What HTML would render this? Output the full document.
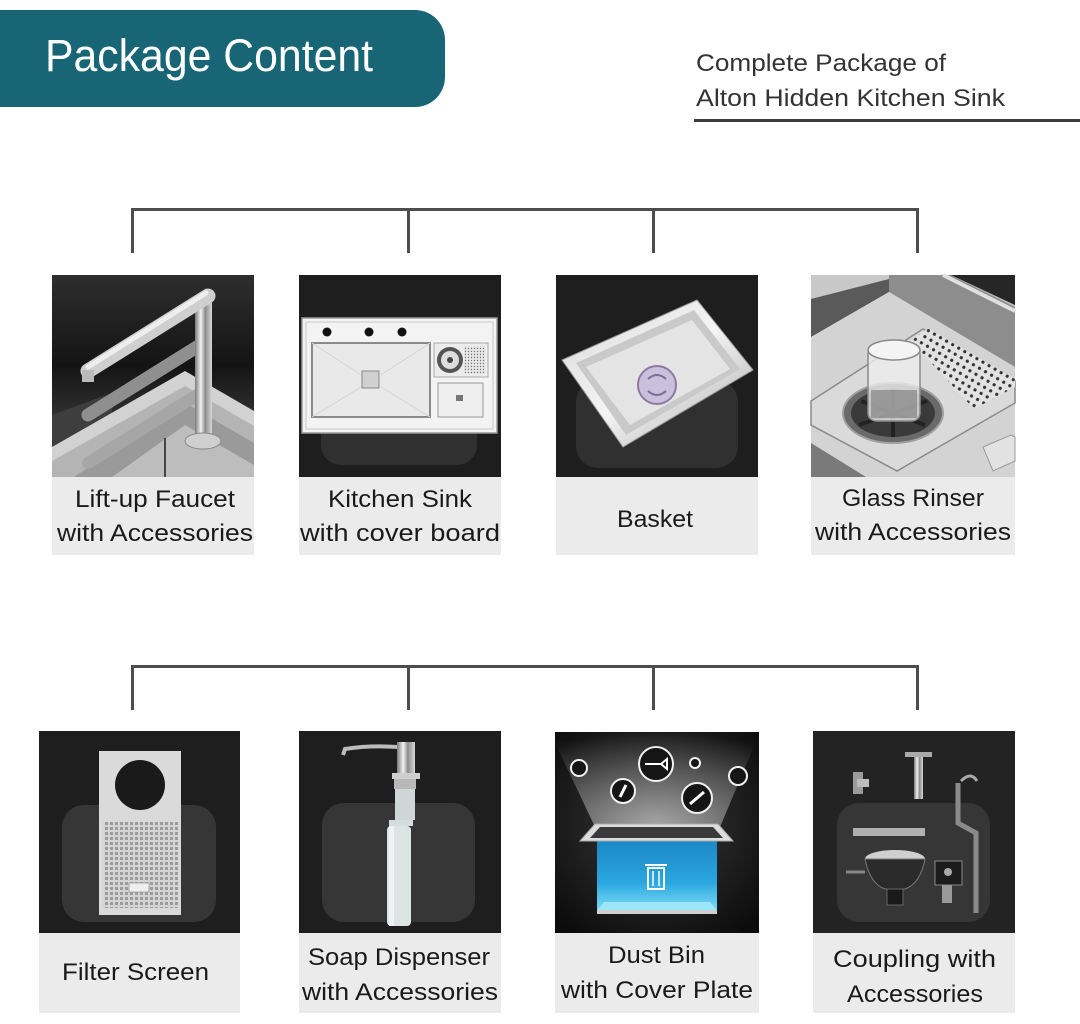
<!DOCTYPE html>
<html><head><meta charset="utf-8"><style>
html,body{margin:0;padding:0;background:#fff;}
svg{display:block;}
text{font-family:"Liberation Sans",Arial,sans-serif;}
</style></head><body>
<svg width="1080" height="1024" viewBox="0 0 1080 1024" xmlns="http://www.w3.org/2000/svg">
<defs>
<linearGradient id="fbg" x1="0" y1="0" x2="0" y2="1"><stop offset="0" stop-color="#2e2e2e"/><stop offset="0.45" stop-color="#141414"/><stop offset="0.8" stop-color="#3c3c3c"/></linearGradient>
<linearGradient id="chrome" x1="0" y1="0" x2="1" y2="0"><stop offset="0" stop-color="#7a7a7a"/><stop offset="0.35" stop-color="#f2f2f2"/><stop offset="0.6" stop-color="#8c8c8c"/><stop offset="1" stop-color="#d8d8d8"/></linearGradient>
<linearGradient id="steel" x1="0" y1="0" x2="1" y2="1"><stop offset="0" stop-color="#d8d8d8"/><stop offset="0.5" stop-color="#f4f4f4"/><stop offset="1" stop-color="#a8a8a8"/></linearGradient>
<linearGradient id="blue" x1="0" y1="0" x2="0" y2="1"><stop offset="0" stop-color="#1b86c6"/><stop offset="0.6" stop-color="#2aa7e0"/><stop offset="1" stop-color="#7fdcf6"/></linearGradient>
<radialGradient id="dbg" cx="0.5" cy="0.45" r="0.7"><stop offset="0" stop-color="#3a3a3a"/><stop offset="1" stop-color="#0b0b0b"/></radialGradient>
<radialGradient id="rays" cx="0.5" cy="1" r="1"><stop offset="0" stop-color="#fff" stop-opacity="0.55"/><stop offset="1" stop-color="#fff" stop-opacity="0"/></radialGradient>
<pattern id="mesh" width="5" height="5" patternUnits="userSpaceOnUse"><rect width="5" height="5" fill="#d4d4d4"/><rect x="1" y="1" width="3" height="3" fill="#9c9c9c"/></pattern>
<pattern id="dots" width="7" height="7" patternUnits="userSpaceOnUse" patternTransform="rotate(30)"><rect width="7" height="7" fill="#e2e2e2"/><circle cx="3.5" cy="3.5" r="1.6" fill="#333"/></pattern>
<pattern id="dots2" width="3" height="3" patternUnits="userSpaceOnUse"><rect width="3" height="3" fill="#e8e8e8"/><circle cx="1.5" cy="1.5" r="0.7" fill="#777"/></pattern>
</defs>

<!-- Header -->
<path d="M0 10 H415 A30 30 0 0 1 445 40 V77 A30 30 0 0 1 415 107 H0 Z" fill="#186576"/>
<text x="45" y="71" font-size="45" fill="#ffffff" textLength="328" lengthAdjust="spacingAndGlyphs">Package Content</text>

<text x="696" y="71" font-size="24" fill="#333" textLength="250" lengthAdjust="spacingAndGlyphs">Complete Package of</text>
<text x="696" y="106" font-size="24" fill="#333" textLength="309" lengthAdjust="spacingAndGlyphs">Alton Hidden Kitchen Sink</text>
<rect x="694" y="119" width="386" height="3" fill="#3c3c3c"/>

<!-- Connectors row 1 -->
<g fill="#4d4d4d">
<rect x="131" y="208" width="788" height="3"/>
<rect x="131" y="208" width="3" height="45"/>
<rect x="407" y="208" width="3" height="45"/>
<rect x="652" y="208" width="3" height="45"/>
<rect x="916" y="208" width="3" height="45"/>
</g>
<!-- Connectors row 2 -->
<g fill="#4d4d4d">
<rect x="131" y="665" width="788" height="3"/>
<rect x="131" y="665" width="3" height="45"/>
<rect x="407" y="665" width="3" height="45"/>
<rect x="652" y="665" width="3" height="45"/>
<rect x="916" y="665" width="3" height="45"/>
</g>

<!-- Card 1: Faucet -->
<g transform="translate(52,275)">
<rect width="202" height="202" fill="url(#fbg)"/>
<polygon points="0,140 60,118 60,150 0,175" fill="#3e3e3e"/>
<polygon points="0,172 133,96 202,136 202,202 0,202" fill="#d2d2d2"/>
<polygon points="0,186 133,111 202,151 202,202 0,202" fill="#b4b4b4"/>
<polygon points="22,202 133,128 202,168 202,202" fill="#9a9a9a"/>
<polygon points="60,202 133,150 202,190 202,202" fill="#bdbdbd"/>
<rect x="112" y="163" width="2" height="39" fill="#444"/>
<line x1="145" y1="120" x2="36" y2="188" stroke="#a6a6a6" stroke-width="12" stroke-linecap="round"/>
<line x1="148" y1="70" x2="36" y2="140" stroke="#8f8f8f" stroke-width="13" stroke-linecap="round"/>
<rect x="143" y="22" width="17" height="145" fill="url(#chrome)"/>
<ellipse cx="151" cy="166" rx="18" ry="8" fill="#cfcfcf" stroke="#888"/>
<line x1="156" y1="21" x2="36" y2="96" stroke="#cfcfcf" stroke-width="15" stroke-linecap="round"/>
<line x1="154" y1="18" x2="36" y2="92" stroke="#eeeeee" stroke-width="5" stroke-linecap="round"/>
<rect x="30" y="95" width="12" height="12" fill="#bbb"/>
</g>
<rect x="52" y="477" width="202" height="78" fill="#ebebeb"/>
<text x="75" y="507" font-size="24" fill="#1a1a1a" textLength="160" lengthAdjust="spacingAndGlyphs">Lift-up Faucet</text>
<text x="57" y="541" font-size="24" fill="#1a1a1a" textLength="196" lengthAdjust="spacingAndGlyphs">with Accessories</text>

<!-- Card 2: Kitchen Sink -->
<g transform="translate(299,275)">
<rect width="202" height="202" fill="#1e1e1e"/>
<rect x="22" y="120" width="156" height="70" rx="20" fill="#303030"/>
<rect x="3" y="43" width="195" height="115" fill="#f3f3f3" stroke="#9a9a9a" stroke-width="1.5"/>
<rect x="7" y="47" width="187" height="107" fill="none" stroke="#c8c8c8"/>
<circle cx="28" cy="57" r="4.5" fill="#111"/>
<circle cx="70" cy="57" r="4.5" fill="#111"/>
<circle cx="103" cy="57" r="4.5" fill="#111"/>
<rect x="13" y="68" width="118" height="74" fill="#e9e9e9" stroke="#8a8a8a" stroke-width="2"/>
<line x1="13" y1="68" x2="62" y2="100" stroke="#d5d5d5"/>
<line x1="131" y1="68" x2="82" y2="100" stroke="#d5d5d5"/>
<line x1="13" y1="142" x2="62" y2="112" stroke="#d5d5d5"/>
<line x1="131" y1="142" x2="82" y2="112" stroke="#d5d5d5"/>
<rect x="63" y="96" width="17" height="17" fill="#d0d0d0" stroke="#888"/>
<rect x="135" y="68" width="54" height="34" fill="#ececec" stroke="#aaa"/>
<circle cx="151" cy="85" r="13" fill="#555"/>
<circle cx="151" cy="85" r="9" fill="#ddd"/>
<circle cx="151" cy="85" r="3" fill="#444"/>
<rect x="165" y="71" width="21" height="28" fill="url(#dots2)"/>
<rect x="139" y="108" width="45" height="34" fill="#efefef" stroke="#999"/>
<rect x="157" y="120" width="7" height="6" fill="#777"/>
</g>
<rect x="299" y="477" width="202" height="78" fill="#ebebeb"/>
<text x="328" y="507" font-size="24" fill="#1a1a1a" textLength="144" lengthAdjust="spacingAndGlyphs">Kitchen Sink</text>
<text x="300" y="541" font-size="24" fill="#1a1a1a" textLength="200" lengthAdjust="spacingAndGlyphs">with cover board</text>

<!-- Card 3: Basket -->
<g transform="translate(556,275)">
<rect width="202" height="202" fill="#1e1e1e"/>
<rect x="20" y="105" width="162" height="88" rx="22" fill="#303030"/>
<polygon points="6,85 141,25 197,95 67,172" fill="url(#steel)" stroke="#9a9a9a"/>
<polygon points="20,88 138,35 184,94 70,160" fill="#c9c9c9"/>
<polygon points="30,92 136,45 174,94 74,150" fill="#e4e4e4"/>
<circle cx="101" cy="110" r="19" fill="#cbbfdc" stroke="#8c7aa3" stroke-width="2"/>
<path d="M92 104 q9 -8 18 0 M92 116 q9 8 18 0" stroke="#7c6c96" stroke-width="2" fill="none"/>
</g>
<rect x="556" y="477" width="202" height="78" fill="#ebebeb"/>
<text x="617" y="527" font-size="24" fill="#1a1a1a" textLength="76" lengthAdjust="spacingAndGlyphs">Basket</text>

<!-- Card 4: Glass Rinser -->
<g transform="translate(811,275)">
<rect width="204" height="202" fill="#bdbdbd"/>
<polygon points="0,0 78,0 78,17 0,62" fill="#5a5a5a"/>
<polygon points="0,0 78,0 78,4 0,24" fill="#c8c8c8"/>
<polygon points="78,0 140,0 204,32 204,92 78,17" fill="#8d8d8d"/>
<polygon points="140,0 204,0 204,30" fill="#262626"/>
<line x1="132" y1="0" x2="204" y2="36" stroke="#e0e0e0" stroke-width="4"/>
<polygon points="0,62 78,17 204,92 204,202 0,202" fill="#d3d3d3"/>
<polygon points="0,126 112,54 204,106 204,128 86,196 0,150" fill="#dadada" stroke="#8a8a8a" stroke-width="1.5"/>
<polygon points="100,66 117,53 204,104 204,112 163,134" fill="url(#dots)"/>
<ellipse cx="82" cy="138" rx="50" ry="30" fill="#6a6a6a" stroke="#a0a0a0" stroke-width="2"/>
<ellipse cx="82" cy="138" rx="42" ry="24" fill="#3a3a3a"/>
<g stroke="#222" stroke-width="4"><line x1="50" y1="126" x2="114" y2="150"/><line x1="48" y1="150" x2="116" y2="126"/><line x1="82" y1="114" x2="82" y2="162"/></g>
<rect x="57" y="72" width="52" height="74" rx="8" fill="#ececec" fill-opacity="0.8" stroke="#8a8a8a" stroke-width="1.5"/>
<rect x="60" y="115" width="46" height="28" fill="#6a6a6a" fill-opacity="0.5"/>
<ellipse cx="83" cy="75" rx="26" ry="10" fill="#f4f4f4" stroke="#888" stroke-width="1.5"/>
<polygon points="172,172 200,160 204,162 204,186 182,196" fill="#e2e2e2" stroke="#999"/>
<polygon points="0,168 55,202 0,202" fill="#7a7a7a"/>
</g>
<rect x="811" y="477" width="204" height="78" fill="#ebebeb"/>
<text x="842" y="506" font-size="24" fill="#1a1a1a" textLength="142" lengthAdjust="spacingAndGlyphs">Glass Rinser</text>
<text x="815" y="540" font-size="24" fill="#1a1a1a" textLength="196" lengthAdjust="spacingAndGlyphs">with Accessories</text>

<!-- Card 5: Filter Screen -->
<g transform="translate(39,731)">
<rect width="201" height="202" fill="#1e1e1e"/>
<rect x="23" y="74" width="154" height="117" rx="22" fill="#363636"/>
<rect x="60" y="20" width="82" height="164" fill="#dadada"/>
<circle cx="101" cy="54" r="25" fill="#1a1a1a"/>
<rect x="64" y="91" width="75" height="86" fill="url(#mesh)"/>
<rect x="90" y="152" width="20" height="9" fill="#eee" stroke="#999" stroke-width="0.8"/>
</g>
<rect x="39" y="933" width="201" height="80" fill="#ebebeb"/>
<text x="62" y="980" font-size="24" fill="#1a1a1a" textLength="147" lengthAdjust="spacingAndGlyphs">Filter Screen</text>

<!-- Card 6: Soap Dispenser -->
<g transform="translate(299,731)">
<rect width="202" height="202" fill="#1e1e1e"/>
<rect x="23" y="72" width="153" height="119" rx="22" fill="#363636"/>
<path d="M99 16 Q70 14 46 18 L44 24" stroke="#bdbdbd" stroke-width="4" fill="none"/>
<rect x="98" y="11" width="18" height="31" fill="url(#chrome)"/>
<rect x="93" y="42" width="28" height="6" fill="#cfcfcf"/>
<rect x="95" y="48" width="22" height="10" fill="#b8b8b8"/>
<rect x="96" y="58" width="20" height="31" fill="#cfd6d6"/>
<rect x="90" y="89" width="24" height="6" fill="#d5dcdc"/>
<rect x="88" y="95" width="24" height="100" rx="4" fill="#dde4e4"/>
<rect x="90" y="95" width="5" height="100" fill="#eef3f3"/>
</g>
<rect x="299" y="933" width="202" height="80" fill="#ebebeb"/>
<text x="308" y="965" font-size="24" fill="#1a1a1a" textLength="182" lengthAdjust="spacingAndGlyphs">Soap Dispenser</text>
<text x="302" y="1000" font-size="24" fill="#1a1a1a" textLength="196" lengthAdjust="spacingAndGlyphs">with Accessories</text>

<!-- Card 7: Dust Bin -->
<g transform="translate(555,732)">
<rect width="204" height="201" fill="url(#dbg)"/>
<polygon points="40,95 165,95 205,0 -5,0" fill="url(#rays)"/>
<g fill="#151515" stroke="#f0f0f0" stroke-width="2">
<circle cx="101" cy="32" r="17"/>
<circle cx="142" cy="66" r="15"/>
<circle cx="68" cy="59" r="12"/>
<circle cx="24" cy="36" r="8"/>
<circle cx="140" cy="31" r="5"/>
<circle cx="183" cy="44" r="9"/>
</g>
<path d="M90 32 h16 l6 -5 v10 l-6 -5" stroke="#fff" stroke-width="2" fill="none"/>
<line x1="135" y1="72" x2="149" y2="60" stroke="#fff" stroke-width="3"/>
<line x1="65" y1="65" x2="71" y2="53" stroke="#fff" stroke-width="3"/>
<rect x="42" y="108" width="120" height="71" fill="url(#blue)"/>
<polygon points="42,179 162,179 155,170 49,170" fill="#9be6fb"/>
<polygon points="25,109 40,92 163,92 178,109" fill="#dcdcdc" stroke="#aaa"/>
<polygon points="45,95 158,95 168,106 35,106" fill="#3a3a3a"/>
<rect x="42" y="178" width="120" height="4" fill="#cfcfcf"/>
<rect x="93" y="136" width="16" height="21" fill="none" stroke="#fff" stroke-width="2"/>
<line x1="90" y1="133" x2="112" y2="133" stroke="#fff" stroke-width="2"/>
<line x1="98" y1="139" x2="98" y2="154" stroke="#fff" stroke-width="1.5"/>
<line x1="104" y1="139" x2="104" y2="154" stroke="#fff" stroke-width="1.5"/>
</g>
<rect x="555" y="933" width="204" height="80" fill="#ebebeb"/>
<text x="608" y="963" font-size="24" fill="#1a1a1a" textLength="97" lengthAdjust="spacingAndGlyphs">Dust Bin</text>
<text x="561" y="998" font-size="24" fill="#1a1a1a" textLength="192" lengthAdjust="spacingAndGlyphs">with Cover Plate</text>

<!-- Card 8: Coupling -->
<g transform="translate(813,731)">
<rect width="202" height="202" fill="#232323"/>
<rect x="24" y="72" width="153" height="119" rx="22" fill="#363636"/>
<rect x="40" y="41" width="10" height="22" fill="#9a9a9a"/>
<rect x="44" y="48" width="12" height="8" fill="#bbb"/>
<rect x="92" y="21" width="27" height="5" fill="#aaa"/>
<rect x="101" y="26" width="9" height="42" fill="url(#chrome)"/>
<path d="M145 52 v40 l18 10 v80" stroke="#8a8a8a" stroke-width="5" fill="none"/>
<path d="M148 50 q10 -10 16 0" stroke="#aaa" stroke-width="3" fill="none"/>
<rect x="40" y="97" width="72" height="8" fill="#b0b0b0"/>
<ellipse cx="82" cy="128" rx="30" ry="9" fill="#cfcfcf"/>
<path d="M52 128 q5 25 20 30 h20 q15 -5 20 -30 z" fill="#2a2a2a" stroke="#777"/>
<rect x="74" y="158" width="16" height="16" fill="#1a1a1a" stroke="#666"/>
<line x1="33" y1="141" x2="52" y2="141" stroke="#888" stroke-width="3"/>
<rect x="122" y="130" width="27" height="24" fill="#1c1c1c" stroke="#888"/>
<rect x="129" y="154" width="10" height="18" fill="#9a9a9a"/>
<circle cx="135" cy="141" r="4" fill="#aaa"/>
</g>
<rect x="813" y="933" width="202" height="80" fill="#ebebeb"/>
<text x="833" y="967" font-size="24" fill="#1a1a1a" textLength="163" lengthAdjust="spacingAndGlyphs">Coupling with</text>
<text x="847" y="1002" font-size="24" fill="#1a1a1a" textLength="136" lengthAdjust="spacingAndGlyphs">Accessories</text>
</svg>
</body></html>
